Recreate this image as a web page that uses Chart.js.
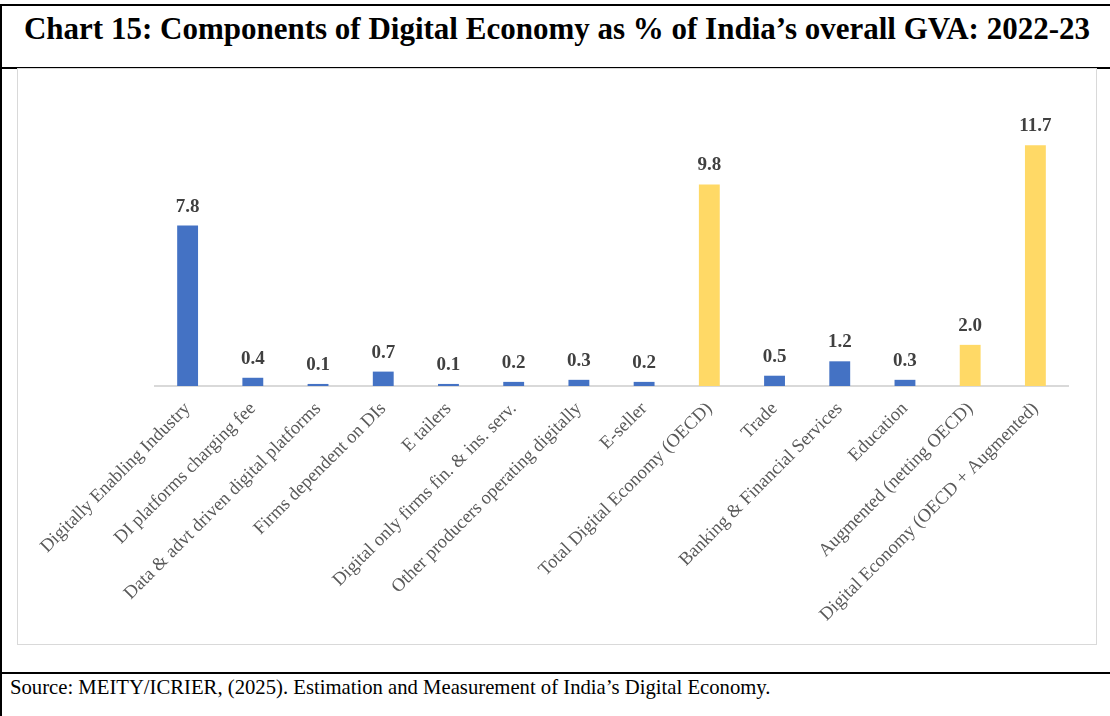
<!DOCTYPE html>
<html>
<head>
<meta charset="utf-8">
<script src="https://cdn.jsdelivr.net/npm/chart.js@4.4.1/dist/chart.umd.min.js"></script>
<style>
    html, body { margin: 0; padding: 0; background: #fff; }
    #page { position: relative; width: 1110px; height: 716px; overflow: hidden; font-family: "Liberation Serif", "Times New Roman", serif; }
    #title {
        position: absolute; left: 0; top: 4px; width: 1112px; height: 65px;
        border-top: 2px solid #000; border-left: 2px solid #000; border-bottom: 2px solid #000;
        box-sizing: border-box;
        font-weight: bold; font-size: 31px; text-align: center; line-height: 46px; color: #000;
    }
    #leftRule { position: absolute; left: 0; top: 4px; width: 2px; height: 712px; background: #000; }
    #chartBox {
        position: absolute; left: 17px; top: 68px; width: 1080px; height: 577px;
        border: 1px solid #d9d9d9; box-sizing: border-box;
    }
    #chartBox canvas { position: absolute; left: 0; top: 0; }
    #sourceRule { position: absolute; left: 0; top: 672px; width: 1110px; height: 2px; background: #000; }
    #source { position: absolute; left: 10px; top: 676px; font-size: 20.7px; color: #000; }
</style>
</head>
<body>
<div id="page">
    <div id="title">Chart 15: Components of Digital Economy as % of India’s overall GVA: 2022-23</div>
    <div id="leftRule"></div>
    <div id="chartBox"><canvas id="gvaChart" width="1078" height="575"></canvas></div>
    <div id="sourceRule"></div>
    <div id="source">Source: MEITY/ICRIER, (2025). Estimation and Measurement of India’s Digital Economy.</div>
</div>
<script>
const categories = [
    'Digitally Enabling Industry',
    'DI platforms charging fee',
    'Data & advt driven digital platforms',
    'Firms dependent on DIs',
    'E tailers',
    'Digital only firms fin. & ins. serv.',
    'Other producers operating digitally',
    'E-seller',
    'Total Digital Economy (OECD)',
    'Trade',
    'Banking & Financial Services',
    'Education',
    'Augmented (netting OECD)',
    'Digital Economy (OECD + Augmented)'
];
const shareOfGva = [7.8, 0.4, 0.1, 0.7, 0.1, 0.2, 0.3, 0.2, 9.8, 0.5, 1.2, 0.3, 2.0, 11.7];
// totals are highlighted in gold, components in blue
const isTotal = [false, false, false, false, false, false, false, false, true, false, false, false, true, true];

const BLUE = '#4472C4';
const GOLD = '#FFD966';
const SERIF = '"Liberation Serif", "Times New Roman", serif';

// value labels above each bar
const barValues = {
    id: 'barValues',
    afterDatasetsDraw(chart) {
        const ctx = chart.ctx;
        const meta = chart.getDatasetMeta(0);
        ctx.save();
        ctx.font = 'bold 19px ' + SERIF;
        ctx.fillStyle = '#404040';
        ctx.textAlign = 'center';
        ctx.textBaseline = 'alphabetic';
        meta.data.forEach((bar, i) => {
            ctx.fillText(shareOfGva[i].toFixed(1), bar.x, bar.y - 14);
        });
        ctx.restore();
    }
};

new Chart(document.getElementById('gvaChart').getContext('2d'), {
    type: 'bar',
    data: {
        labels: categories,
        datasets: [{
            data: shareOfGva,
            backgroundColor: isTotal.map(t => t ? GOLD : BLUE),
            borderWidth: 0,
            barPercentage: 0.32,
            categoryPercentage: 1
        }]
    },
    options: {
        responsive: false,
        animation: false,
        layout: { padding: { left: 137, right: 28, top: 29, bottom: 0 } },
        scales: {
            y: { display: false, min: 0, max: 14 },
            x: {
                grid: { display: false },
                border: { color: '#d9d9d9', width: 2 },
                ticks: {
                    color: '#595959',
                    font: { family: SERIF, size: 18.5 },
                    maxRotation: 45,
                    minRotation: 45,
                    autoSkip: false,
                    padding: 4
                },
                afterFit(scale) { scale.height = 258; }
            }
        },
        plugins: {
            legend: { display: false },
            tooltip: { enabled: false }
        }
    },
    plugins: [barValues]
});
</script>
</body>
</html>
